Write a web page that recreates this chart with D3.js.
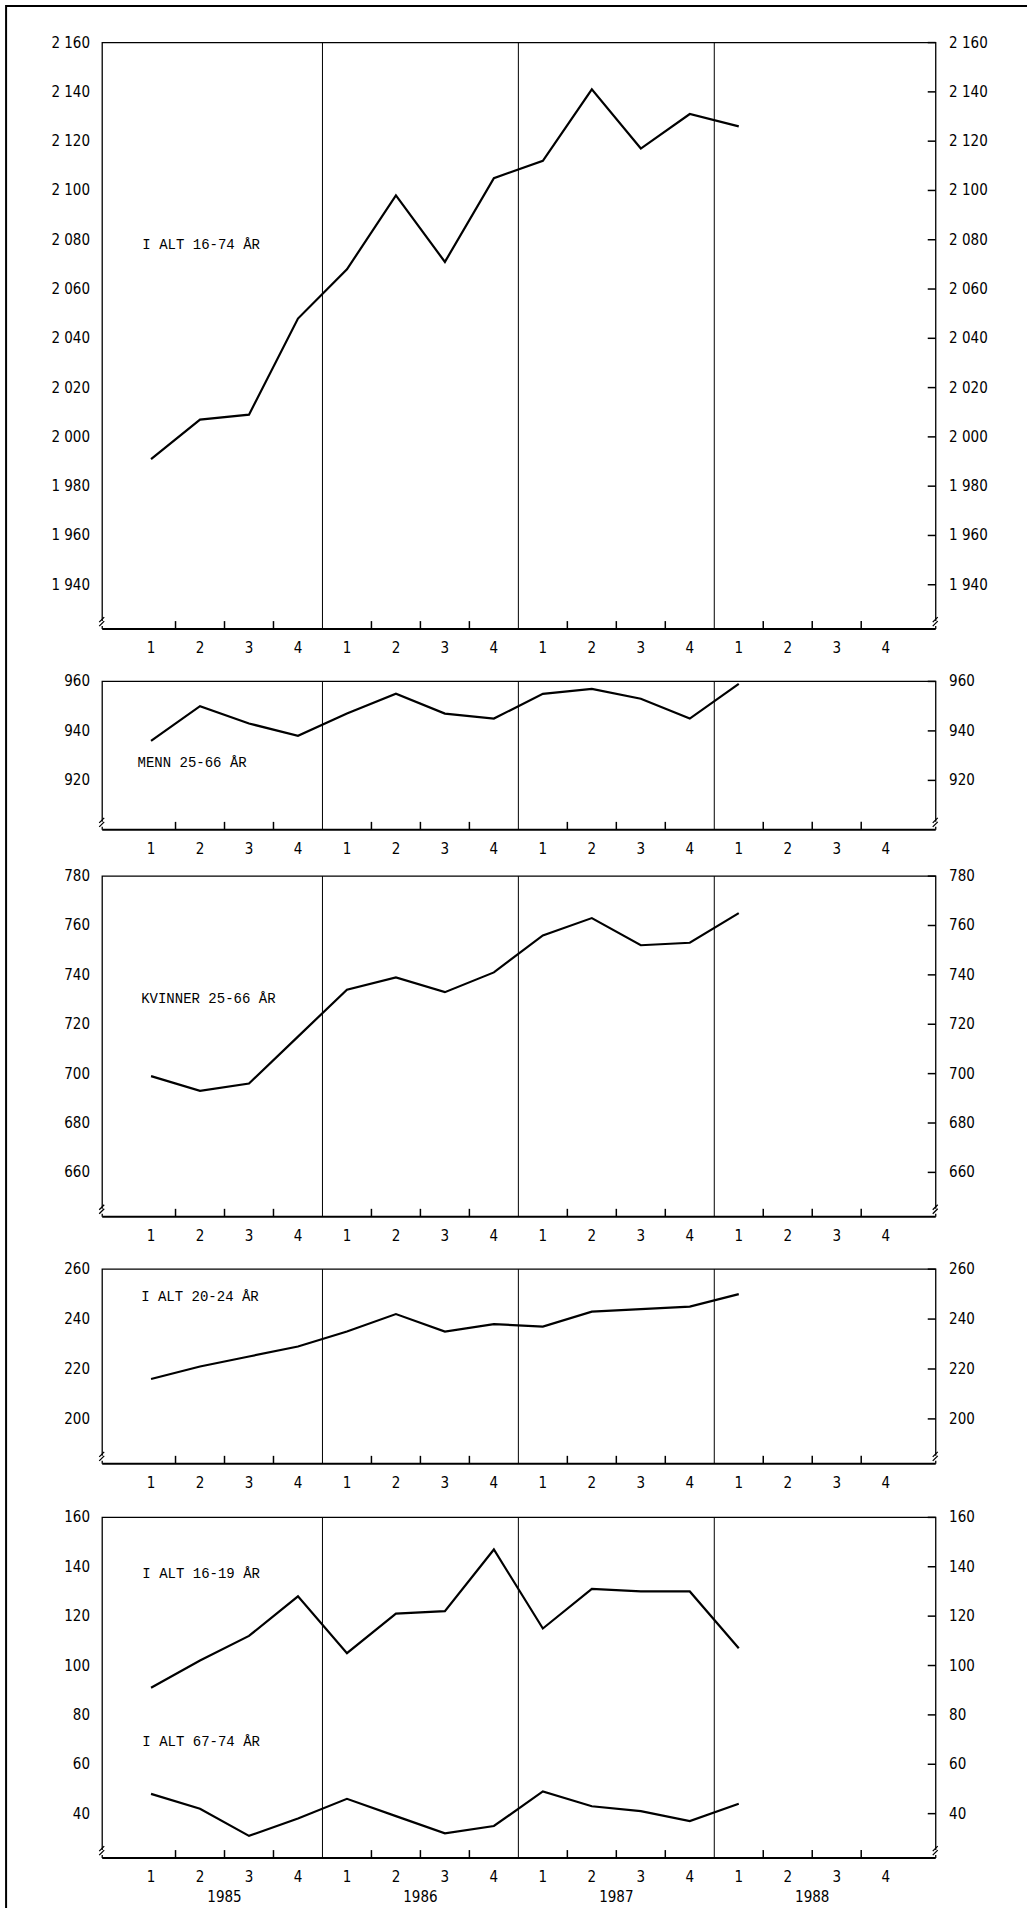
<!DOCTYPE html>
<html><head><meta charset="utf-8">
<script src="https://cdn.jsdelivr.net/npm/d3@7"></script>
<style>body{margin:0;background:#fff}</style>
</head><body><div id="vis"></div>
<script>
const years = ["1985", "1986", "1987", "1988"];
const quarters = ["1", "2", "3", "4"];
const total1674 = [1991, 2007, 2009, 2048, 2068, 2098, 2071, 2105, 2112, 2141, 2117, 2131, 2126];
const menn2566 = [936, 950, 943, 938, 947, 955, 947, 945, 955, 957, 953, 945, 959];
const kvinner2566 = [699, 693, 696, 715, 734, 739, 733, 741, 756, 763, 752, 753, 765];
const total2024 = [216, 221, 225, 229, 235, 242, 235, 238, 237, 243, 244, 245, 250];
const total1619 = [91, 102, 112, 128, 105, 121, 122, 147, 115, 131, 130, 130, 107];
const total6774 = [48, 42, 31, 38, 46, 39, 32, 35, 49, 43, 41, 37, 44];

const k = 1027 / 844; // layout measured on 844-wide copy
var W = 1027, H = 1908;
var svg = d3.select("#vis").append("svg").attr("width", W).attr("height", H);
svg.append("path").attr("d", `M${5*k},${H} V${5*k} H${W}`).attr("fill", "none").attr("stroke", "#000").attr("stroke-width", 2);

var xl = 84*k, xr = 769*k;
var x = d3.scaleLinear().domain([0, 16]).range([104*k, 748*k]);
var tickFont = "DejaVu Sans Condensed, DejaVu Sans";

var panels = [
  {top: 35, bot: 517, dom: [1922, 2160], ticks: d3.range(1940, 2161, 20), series: [{v: total1674, label: "I ALT 16-74 ÅR", lx: 117, ly: 205}]},
  {top: 560, bot: 682, dom: [900, 960], ticks: [920, 940, 960], series: [{v: menn2566, label: "MENN 25-66 ÅR", lx: 113, ly: 630}]},
  {top: 720, bot: 1000, dom: [642, 780], ticks: d3.range(660, 781, 20), series: [{v: kvinner2566, label: "KVINNER 25-66 ÅR", lx: 116, ly: 824}]},
  {top: 1043, bot: 1203, dom: [182, 260], ticks: [200, 220, 240, 260], series: [{v: total2024, label: "I ALT 20-24 ÅR", lx: 116, ly: 1069}]},
  {top: 1247, bot: 1527, dom: [22, 160], ticks: d3.range(40, 161, 20), series: [
    {v: total1619, label: "I ALT 16-19 ÅR", lx: 117, ly: 1297},
    {v: total6774, label: "I ALT 67-74 ÅR", lx: 117, ly: 1435}]}
];

var fmt = v => v >= 1000 ? Math.floor(v/1000) + " " + String(v % 1000).padStart(3, "0") : String(v);

panels.forEach((p, pi) => {
  var top = p.top*k, bot = p.bot*k;
  var y = d3.scaleLinear().domain(p.dom).range([bot, top]);
  var g = svg.append("g");
  // frame
  g.append("path").attr("d", `M${xl},${bot-8} V${top} H${xr} V${bot-8}`).attr("fill", "none").attr("stroke", "#000").attr("stroke-width", 1.3);
  g.append("line").attr("x1", xl).attr("x2", xr).attr("y1", bot).attr("y2", bot).attr("stroke", "#000").attr("stroke-width", 2);
  [xl, xr].forEach(xx => {
    g.append("line").attr("x1", xx).attr("x2", xx).attr("y1", bot).attr("y2", bot-3).attr("stroke", "#000").attr("stroke-width", 1.3);
    g.append("path").attr("d", `M${xx-3},${bot-3} L${xx+2},${bot-8} M${xx-3},${bot-7} L${xx+2},${bot-12}`).attr("stroke", "#000").attr("stroke-width", 1.3);
  });
  // year separators
  [4, 8, 12].forEach(q => g.append("line").attr("x1", x(q)).attr("x2", x(q)).attr("y1", top).attr("y2", bot).attr("stroke", "#000").attr("stroke-width", 1));
  // quarter ticks
  d3.range(1, 16).filter(q => q % 4).forEach(q => g.append("line").attr("x1", x(q)).attr("x2", x(q)).attr("y1", bot).attr("y2", bot-8).attr("stroke", "#000").attr("stroke-width", 1.5));
  d3.range(16).forEach(q => g.append("text").attr("x", x(q+0.5)).attr("y", bot + 24).attr("text-anchor", "middle")
    .attr("font-family", tickFont).attr("font-size", 15).text(quarters[q % 4]));
  if (pi == panels.length - 1) years.forEach((yr, i) => g.append("text").attr("x", x(i*4+2)).attr("y", bot + 44)
    .attr("text-anchor", "middle").attr("font-family", tickFont).attr("font-size", 15).text(yr));
  // y ticks
  p.ticks.forEach(t => {
    g.append("text").attr("x", 74*k).attr("y", y(t) + 5).attr("text-anchor", "end").attr("font-family", tickFont).attr("font-size", 15).text(fmt(t));
    g.append("text").attr("x", 780*k).attr("y", y(t) + 5).attr("font-family", tickFont).attr("font-size", 15).text(fmt(t));
    g.append("line").attr("x1", xr).attr("x2", xr - 8).attr("y1", y(t)).attr("y2", y(t)).attr("stroke", "#000").attr("stroke-width", 1.5);
  });
  p.series.forEach(s => {
    g.append("path").datum(s.v).attr("fill", "none").attr("stroke", "#000").attr("stroke-width", 2.2)
      .attr("d", d3.line().x((d, i) => x(i + 0.5)).y(d => y(d)));
    g.append("text").attr("x", s.lx*k).attr("y", s.ly*k).attr("font-family", "Liberation Mono, monospace")
      .attr("font-size", 14).text(s.label);
  });
});
</script></body></html>
